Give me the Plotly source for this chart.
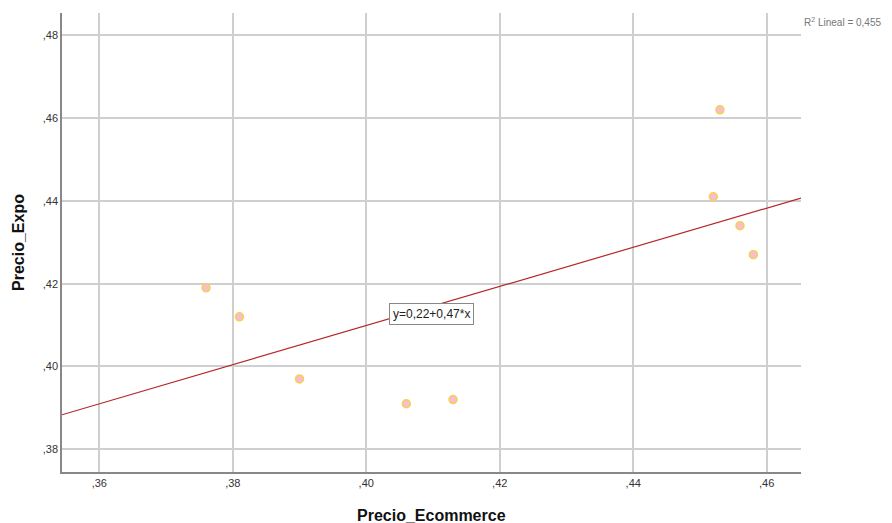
import plotly.graph_objects as go

precio_ecommerce = [0.376, 0.381, 0.390, 0.406, 0.413, 0.452, 0.453, 0.456, 0.458]
precio_expo = [0.419, 0.412, 0.397, 0.391, 0.392, 0.441, 0.462, 0.434, 0.427]

fit_intercept = 0.2208
fit_slope = 0.4727
fit_label = "y=0,22+0,47*x"
r2_label = "R<sup>2</sup> Lineal = 0,455"

x_tickvals = [0.36, 0.38, 0.40, 0.42, 0.44, 0.46]
x_ticktext = [",36", ",38", ",40", ",42", ",44", ",46"]
y_tickvals = [0.38, 0.40, 0.42, 0.44, 0.46, 0.48]
y_ticktext = [",38", ",40", ",42", ",44", ",46", ",48"]

x_range = [0.35441, 0.46514]
y_range = [0.37451, 0.48539]

fig = go.Figure()

line_x = x_range
line_y = [fit_intercept + fit_slope * v for v in line_x]
fig.add_trace(go.Scatter(
    x=line_x, y=line_y, mode="lines",
    line=dict(color="#b5262a", width=1.2),
    hoverinfo="skip", showlegend=False,
))

fig.add_trace(go.Scatter(
    x=precio_ecommerce, y=precio_expo, mode="markers",
    marker=dict(size=8, color="#f9bcd0", line=dict(color="#f2d34c", width=1.5)),
    showlegend=False,
))

fig.add_annotation(
    x=0.4097, y=0.4126, xref="x", yref="y", text=fit_label, showarrow=False,
    font=dict(family="Liberation Sans", size=12, color="#222222"),
    bgcolor="white", bordercolor="#888888", borderwidth=1, borderpad=3,
)

fig.add_annotation(
    x=1.0, y=0.48539 - 0.0003, xref="paper", yref="y", xanchor="left", yanchor="top",
    xshift=1, text=r2_label, showarrow=False,
    font=dict(family="Liberation Sans", size=10, color="#777777"),
)

fig.add_annotation(
    x=0.5, y=0, xref="paper", yref="paper", xanchor="center", yanchor="middle",
    yshift=-43, text="<b>Precio_Ecommerce</b>", showarrow=False,
    font=dict(family="Liberation Sans", size=16, color="#111111"),
)

axis_common = dict(
    showgrid=True, gridcolor="#cfcfcf", gridwidth=1.5,
    showline=True, linecolor="#888888", linewidth=1.5,
    zeroline=False,
    tickfont=dict(family="Liberation Sans", size=11, color="#333333"),
)

fig.update_layout(
    width=884, height=515,
    margin=dict(l=54, r=91, t=5, b=51),
    plot_bgcolor="white", paper_bgcolor="white",
    xaxis=dict(
        range=x_range, tickvals=x_tickvals, ticktext=x_ticktext,
        ticks="", automargin=False,
        **axis_common,
    ),
    yaxis=dict(
        range=y_range, tickvals=y_tickvals, ticktext=y_ticktext,
        ticks="", automargin=False,
        title=dict(text="<b>Precio_Expo</b>", standoff=14,
                   font=dict(family="Liberation Sans", size=16, color="#111111")),
        **axis_common,
    ),
)

fig.write_html("out.html")
